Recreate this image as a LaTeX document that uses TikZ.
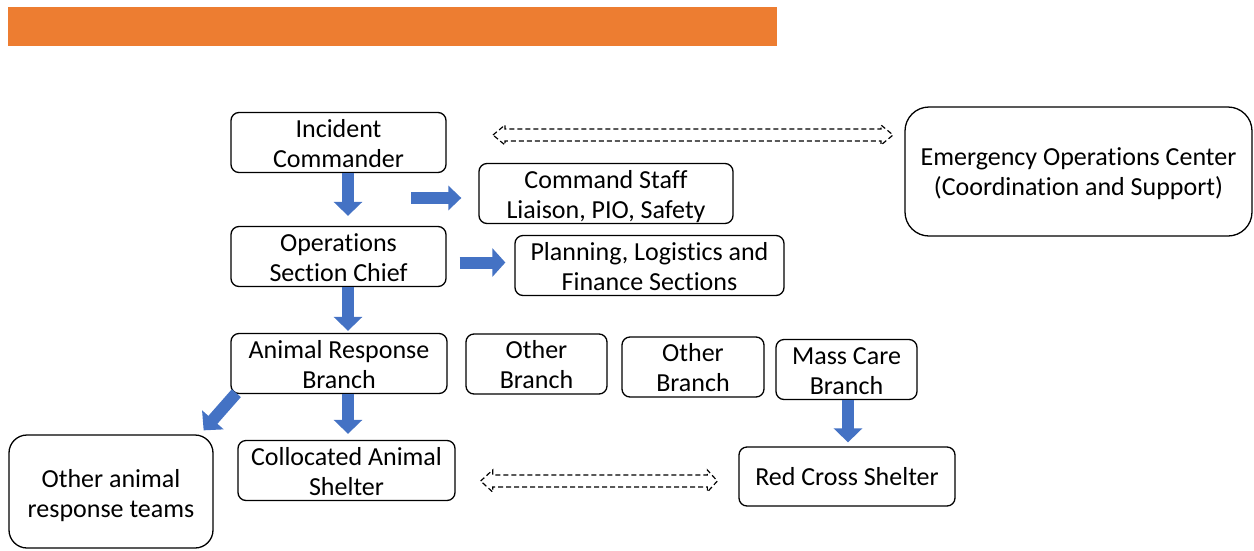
\documentclass[tikz,border=0pt]{standalone}
\usepackage{fontspec}
\setmainfont[Ligatures=NoCommon]{Carlito}
\usetikzlibrary{arrows.meta,calc}
\definecolor{orangebar}{HTML}{ED7D31}
\definecolor{bluearrow}{HTML}{4472C4}
\tikzset{
  box/.style={draw=black, line width=1.3pt, rounded corners=8pt, align=center, inner sep=0pt,
    font=\fontsize{26pt}{30pt}\selectfont},
  barrow/.style={draw=bluearrow, line width=12pt, -{Triangle[width=28pt,length=14pt]}},
  dasharrow/.style={draw=black, line width=1.2pt, dash pattern=on 5pt off 3pt},
}
\newcommand{\lowtext}[2]{\raisebox{#1}[\height][\depth]{\begin{tabular}{@{}c@{}}#2\end{tabular}}}
\begin{document}
\begin{tikzpicture}[x=1pt,y=-1pt]
\useasboundingbox (0,0) rectangle (1254,550);
\fill[orangebar] (8,7) rectangle (777,46);

\node[box, minimum width=215pt, minimum height=59pt] (ic) at (338.5,142.5) {\lowtext{-3.5pt}{Incident\\Commander}};
\node[box, minimum width=347pt, minimum height=129pt, rounded corners=24pt] (eoc) at (1078.5,171.5) {\lowtext{-3pt}{Emergency Operations Center\\(Coordination and Support)}};
\node[box, minimum width=254pt, minimum height=59pt] (cs) at (606,193.5) {\lowtext{-3.5pt}{Command Staff\\Liaison, PIO, Safety}};
\node[box, minimum width=215pt, minimum height=59pt] (ops) at (338.5,256.5) {\lowtext{-3.5pt}{Operations\\Section Chief}};
\node[box, minimum width=269pt, minimum height=59pt] (plan) at (649.5,265.5) {\lowtext{-3.5pt}{Planning, Logistics and\\Finance Sections}};
\node[box, minimum width=216pt, minimum height=59pt] (arb) at (339,363.5) {\lowtext{-3.5pt}{Animal Response\\Branch}};
\node[box, minimum width=141pt, minimum height=60pt] (ob1) at (536.5,364) {\lowtext{-3.5pt}{Other\\Branch}};
\node[box, minimum width=142pt, minimum height=60pt] (ob2) at (693,367) {\lowtext{-3.5pt}{Other\\Branch}};
\node[box, minimum width=141pt, minimum height=59pt] (mcb) at (846.5,369.5) {\lowtext{-3.5pt}{Mass Care\\Branch}};
\node[box, minimum width=204pt, minimum height=113pt, rounded corners=18pt] (teams) at (111,491.5) {\lowtext{-5pt}{Other animal\\response teams}};
\node[box, minimum width=217pt, minimum height=59pt] (cas) at (346.5,470.5) {\lowtext{-3.5pt}{Collocated Animal\\Shelter}};
\node[box, minimum width=216pt, minimum height=59pt] (rcs) at (847,476.5) {\lowtext{-3pt}{Red Cross Shelter}};

% blue block arrows
\draw[barrow] ($(ic.south)+(9.5,0)$) -- ($(ops.north)+(9.5,-10)$);
\draw[barrow, -{Triangle[width=24pt,length=13pt]}] ($(cs.west)+(-67,4.5)$) -- ($(cs.west)+(-17,4.5)$);
\draw[barrow, -{Triangle[width=28pt,length=13pt]}] ($(ops.east)+(13,6)$) -- ($(plan.west)+(-9,-3)$);
\draw[barrow] ($(ops.south)+(9.5,0)$) -- ($(arb.north)+(9,-2)$);
\draw[barrow] ($(arb.south)+(9,0)$) -- ($(cas.north)+(1.5,-6)$);
\coordinate (d1) at ($(arb.south west)+(6,-1)$);
\coordinate (d2) at ($(teams.north east)+(-10,-4)$);
\draw[barrow] (d1) -- (d2);
\draw[barrow] ($(mcb.south)+(1.5,0)$) -- ($(rcs.north)+(1,-4)$);

% dashed hollow double arrows
\coordinate (t1) at (493,135);
\coordinate (t2) at (893,135);
\draw[dasharrow] (t1) -- ++(12,-10) -- ++(0,4) -- ($(t2)+(-12,-6)$) -- ++(0,-4) -- (t2)
  -- ++(-12,10) -- ++(0,-4) -- ($(t1)+(12,6)$) -- ++(0,4) -- cycle;
\coordinate (b1) at ($(cas.east)+(25,10.5)$);
\coordinate (b2) at ($(rcs.west)+(-21,4.5)$);
\draw[dasharrow] (b1) -- ++(12,-11) -- ++(0,5) -- ($(b2)+(-10,-6)$) -- ++(0,-5) -- (b2)
  -- ++(-10,11) -- ++(0,-5) -- ($(b1)+(12,6)$) -- ++(0,5) -- cycle;
\end{tikzpicture}
\end{document}
